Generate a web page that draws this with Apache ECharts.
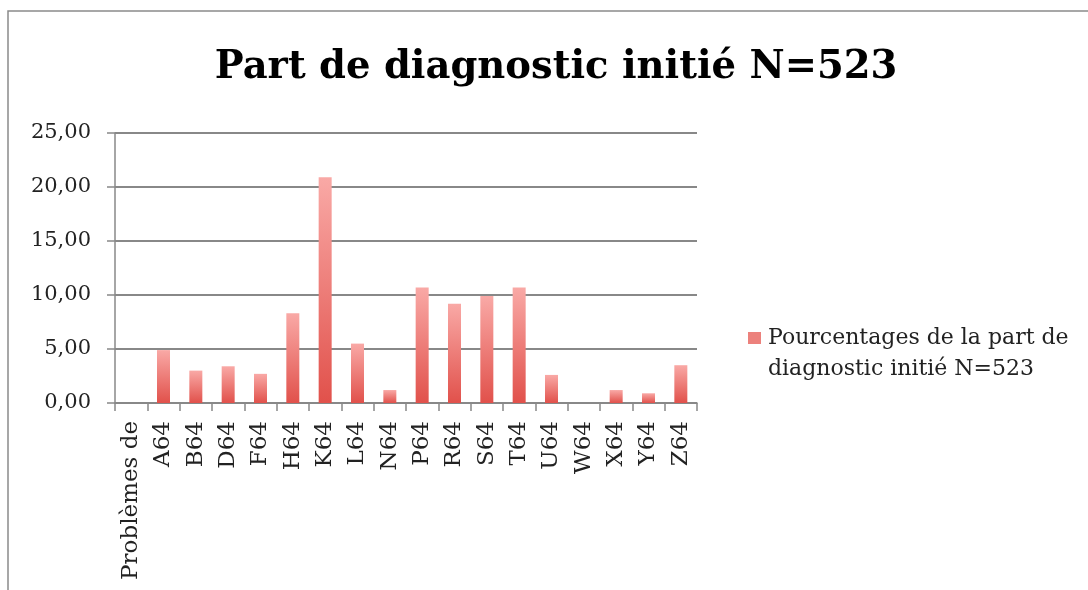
<!DOCTYPE html>
<html>
<head>
<meta charset="utf-8">
<script src="https://cdn.jsdelivr.net/npm/echarts@6/dist/echarts.min.js"></script>
<style>
    html, body { margin: 0; padding: 0; background: #fff; }
    #chart { width: 1088px; height: 590px; }
</style>
</head>
<body>
<div id="chart"></div>
<script>
    // categories and values
    var categories = ['Problèmes de', 'A64', 'B64', 'D64', 'F64', 'H64', 'K64', 'L64', 'N64',
        'P64', 'R64', 'S64', 'T64', 'U64', 'W64', 'X64', 'Y64', 'Z64'];
    var percentages = [0, 4.9, 3.0, 3.4, 2.7, 8.3, 20.9, 5.5, 1.2,
        10.7, 9.2, 9.9, 10.7, 2.6, 0, 1.2, 0.9, 3.5];
    var seriesName = 'Pourcentages de la part de diagnostic initié N=523';
    var legendLines = ['Pourcentages de la part de', 'diagnostic initié N=523'];
    var titleText = 'Part de diagnostic initié N=523';

    var serif = '"DejaVu Serif", "Liberation Serif", serif';
    var chart = echarts.init(document.getElementById('chart'));

    chart.setOption({
        backgroundColor: '#fff',
        animation: false,
        title: {
            text: titleText,
            left: 551,
            top: 43,
            textAlign: 'center',
            textStyle: { fontFamily: serif, fontSize: 38.5, fontWeight: 'bold', color: '#000' }
        },
        // cadre extérieur
        graphic: [{
            type: 'rect',
            shape: { x: 8, y: 11, width: 1090, height: 600 },
            style: { fill: 'none', stroke: '#8a8a8a', lineWidth: 1.5 },
            silent: true
        }],
        legend: {
            left: 738,
            top: 322,
            icon: 'none',
            itemWidth: 0,
            itemHeight: 12,
            // carré en haut à gauche du texte, comme dans Excel
            formatter: function () {
                return '{sq|}{gap|}{t|' + legendLines[0] + '}\n{pad|}{t|' + legendLines[1] + '}';
            },
            textStyle: {
                fontFamily: serif,
                fontSize: 22,
                color: '#222',
                rich: {
                    sq: { width: 13, height: 12, backgroundColor: '#ec817c' },
                    gap: { width: 7 },
                    pad: { width: 20 },
                    t: { fontFamily: serif, fontSize: 22, color: '#222', lineHeight: 31 }
                }
            }
        },
        grid: {
            left: 115,
            right: 391,
            top: 133,
            bottom: 187,
            containLabel: false
        },
        xAxis: {
            type: 'category',
            data: categories,
            axisLine: { lineStyle: { color: '#888', width: 1.5 } },
            axisTick: { show: true, length: 8, lineStyle: { color: '#888', width: 1.5 } },
            axisLabel: {
                rotate: 90,
                interval: 0,
                margin: 18,
                fontFamily: serif,
                fontSize: 23,
                color: '#222'
            }
        },
        yAxis: {
            type: 'value',
            min: 0,
            max: 25,
            interval: 5,
            axisLine: { show: true, lineStyle: { color: '#888', width: 1.5 } },
            axisTick: { show: true, length: 8, lineStyle: { color: '#888', width: 1.5 } },
            axisLabel: {
                margin: 24,
                fontFamily: serif,
                fontSize: 21,
                color: '#222',
                formatter: function (v) {
                    return v.toFixed(2).replace('.', ',');
                }
            },
            splitLine: { lineStyle: { color: '#888', width: 1.8 } }
        },
        series: [{
            name: seriesName,
            type: 'bar',
            barWidth: 13,
            data: percentages,
            itemStyle: {
                color: new echarts.graphic.LinearGradient(0, 0, 0, 1, [
                    { offset: 0, color: '#f9a9a6' },
                    { offset: 1, color: '#e1514b' }
                ])
            }
        }]
    });
</script>
</body>
</html>
